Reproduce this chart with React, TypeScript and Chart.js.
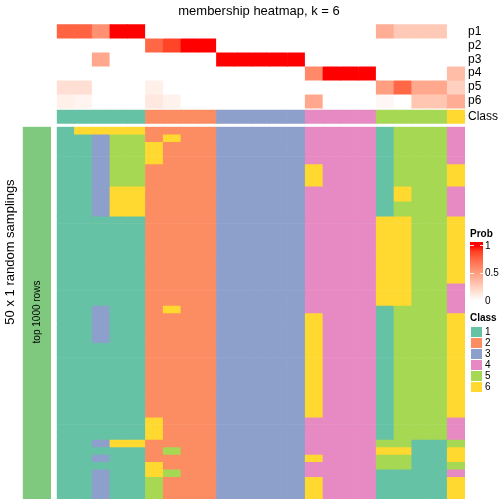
import React, { useEffect, useRef } from "react";
import { Chart, registerables } from "chart.js";

Chart.register(...registerables);

const FONT = '"Liberation Sans", Arial, Helvetica, sans-serif';

// ---- data ----
const columnIds = Array.from({ length: 23 }, (_, i) => `s${i + 1}`);
const annotationLabels = ["p1", "p2", "p3", "p4", "p5", "p6", "Class"];

const p1 = [0.77, 0.77, 0.57, 1, 1, 0, 0, 0, 0, 0, 0, 0, 0, 0, 0, 0, 0, 0, 0.42, 0.28, 0.28, 0.28, 0];
const p2 = [0, 0, 0, 0, 0, 0.75, 0.88, 1, 1, 0, 0, 0, 0, 0, 0, 0, 0, 0, 0, 0, 0, 0, 0];
const p3 = [0, 0, 0.45, 0, 0, 0, 0, 0, 0, 1, 1, 1, 1, 1, 0, 0, 0, 0, 0, 0, 0, 0, 0];
const p4 = [0, 0, 0, 0, 0, 0, 0, 0, 0, 0, 0, 0, 0, 0, 0.6, 1, 1, 1, 0, 0, 0, 0, 0.35];
const p5 = [0.17, 0.17, 0, 0, 0, 0.08, 0, 0, 0, 0, 0, 0, 0, 0, 0, 0, 0, 0, 0.5, 0.75, 0.45, 0.45, 0.25];
const p6 = [0.08, 0.06, 0, 0, 0, 0.12, 0.07, 0, 0, 0, 0, 0, 0, 0, 0.45, 0, 0, 0, 0.04, 0, 0.3, 0.3, 0.42];
const probRows = [p1, p2, p3, p4, p5, p6];

const classAssignment = [1, 1, 1, 1, 1, 2, 2, 2, 2, 3, 3, 3, 3, 3, 4, 4, 4, 4, 5, 5, 5, 5, 6];

// 50 random samplings x 23 columns, class per cell
const samplingRows = [
  "16666222233333444415554",
  "11355262233333444415554",
  "11355622233333444415554",
  "11355622233333444415554",
  "11355622233333444415554",
  "11355222233333644415556",
  "11355222233333644415556",
  "11355222233333644415556",
  "11366222233333444416554",
  "11366222233333444416554",
  "11366222233333444415554",
  "11366222233333444415554",
  "11111222233333444466556",
  "11111222233333444466556",
  "11111222233333444466556",
  "11111222233333444466556",
  "11111222233333444466556",
  "11111222233333444466556",
  "11111222233333444466556",
  "11111222233333444466556",
  "11111222233333444466556",
  "11111222233333444466554",
  "11111222233333444466554",
  "11111222233333444466554",
  "11311262233333444415554",
  "11311222233333644415556",
  "11311222233333644415556",
  "11311222233333644415556",
  "11311222233333644415556",
  "11111222233333644415556",
  "11111222233333644415556",
  "11111222233333644415556",
  "11111222233333644415556",
  "11111222233333644415556",
  "11111222233333644415556",
  "11111222233333644415556",
  "11111222233333644415556",
  "11111222233333644415556",
  "11111222233333644415556",
  "11111622233333444415554",
  "11111622233333444415554",
  "11111622233333444415554",
  "11366222233333444455115",
  "11111252233333444466116",
  "11311222233333644455116",
  "11111622233333444455115",
  "11311652233333444411114",
  "11311522233333644411116",
  "11311522233333644411116",
  "11311522233333644411116",
];

const classLabels = ["1", "2", "3", "4", "5", "6"];
const classColors = ["#66C2A5", "#FC8D62", "#8DA0CB", "#E78AC3", "#A6D854", "#FFD92F"];
const probLegendTicks = [1, 0.5, 0];
const samplingBarColor = "#7FC97F";

// ---- colour helpers (white -> red interpolated in LAB) ----
function lab2rgb(L: number, a: number, b: number): string {
  const fy = (L + 16) / 116;
  const fx = fy + a / 500;
  const fz = fy - b / 200;
  const finv = (t: number) => (t * t * t > 0.008856 ? t * t * t : (t - 16 / 116) / 7.787);
  const X = 0.95047 * finv(fx);
  const Y = finv(fy);
  const Z = 1.08883 * finv(fz);
  const r = 3.2406 * X - 1.5372 * Y - 0.4986 * Z;
  const g = -0.9689 * X + 1.8758 * Y + 0.0415 * Z;
  const bl = 0.0557 * X - 0.204 * Y + 1.057 * Z;
  const gam = (c: number) => {
    c = Math.max(0, Math.min(1, c));
    return c <= 0.0031308 ? 12.92 * c : 1.055 * Math.pow(c, 1 / 2.4) - 0.055;
  };
  return `rgb(${Math.round(gam(r) * 255)},${Math.round(gam(g) * 255)},${Math.round(gam(bl) * 255)})`;
}
function probColor(v: number): string {
  return lab2rgb(100 + (53.24 - 100) * v, 80.09 * v, 67.2 * v);
}

const W = 504;
const H = 504;

function baseOptions(padding: any, yMax: number, yScaleExtra: any = {}) {
  return {
    responsive: false,
    maintainAspectRatio: false,
    animation: false,
    events: [],
    devicePixelRatio: 1,
    layout: { padding },
    plugins: { legend: { display: false }, tooltip: { enabled: false }, title: { display: false } },
    scales: {
      x: { type: "category", stacked: true, display: false, offset: true, grid: { display: false } },
      y: {
        type: "linear",
        min: 0,
        max: yMax,
        reverse: true,
        stacked: false,
        display: false,
        ...yScaleExtra,
      },
    },
  } as any;
}

const cellDataset = (data: any[], colors: string[]) => ({
  data,
  backgroundColor: colors,
  borderWidth: 0,
  barPercentage: 1,
  categoryPercentage: 1,
  grouped: false,
});

export default function App() {
  const topRef = useRef<HTMLCanvasElement>(null);
  const mainRef = useRef<HTMLCanvasElement>(null);
  const sideRef = useRef<HTMLCanvasElement>(null);

  useEffect(() => {
    const charts: Chart[] = [];

    // top annotation: p1..p6 + Class
    const annTickValues = [0.5, 1.5, 2.5, 3.5, 4.5, 5.5, 6.63];
    const topDatasets = probRows.map((row, r) =>
      cellDataset(row.map(() => [r, r + 1]), row.map(probColor))
    );
    topDatasets.push(
      cellDataset(classAssignment.map(() => [6.14, 7.12]), classAssignment.map((c) => classColors[c - 1]))
    );
    charts.push(
      new Chart(topRef.current!, {
        type: "bar",
        data: { labels: columnIds, datasets: topDatasets },
        options: baseOptions({ left: 56.7, top: 24.3, right: 0, bottom: H - 123.7 }, 7.12, {
          display: true,
          position: "right",
          grid: { display: false, drawTicks: false },
          border: { display: false },
          afterBuildTicks: (s: any) => {
            s.ticks = annTickValues.map((v) => ({ value: v }));
          },
          afterFit: (s: any) => {
            s.width = 39;
          },
          ticks: {
            autoSkip: false,
            padding: 3,
            color: "#000",
            font: { family: FONT, size: 12 },
            callback: (_v: any, i: number) => annotationLabels[i],
          },
        }),
      } as any)
    );

    // main membership heatmap
    const mainDatasets = samplingRows.map((row, r) =>
      cellDataset(
        row.split("").map(() => [r, r + 1]),
        row.split("").map((c) => classColors[Number(c) - 1])
      )
    );
    charts.push(
      new Chart(mainRef.current!, {
        type: "bar",
        data: { labels: columnIds, datasets: mainDatasets },
        options: baseOptions({ left: 56.7, top: 126.7, right: W - 465, bottom: H - 499 }, samplingRows.length),
      } as any)
    );

    // left sampling bar
    charts.push(
      new Chart(sideRef.current!, {
        type: "bar",
        data: {
          labels: ["top 1000 rows"],
          datasets: [cellDataset([[0, samplingRows.length]], [samplingBarColor])],
        },
        options: baseOptions({ left: 22.7, top: 126.7, right: W - 51, bottom: H - 499 }, samplingRows.length),
      } as any)
    );

    return () => charts.forEach((c) => c.destroy());
  }, []);

  const canvasStyle: React.CSSProperties = { position: "absolute", left: 0, top: 0, width: W, height: H };
  const txt: React.CSSProperties = { position: "absolute", fontFamily: FONT, color: "#000", whiteSpace: "nowrap" };

  // legend gradient: bar from y=242 to y=301, value 1 at 245.7, value 0 at 300.7
  const gTop = 242;
  const gH = 59;
  const y1 = 245.7;
  const y0 = 300.7;
  const pctAt = (v: number) => ((y0 - (y0 - y1) * v - gTop) / gH) * 100;
  const gradientStops = Array.from({ length: 11 }, (_, i) => {
    const v = 1 - i / 10;
    return `${probColor(v)} ${pctAt(v).toFixed(2)}%`;
  }).join(", ");

  return (
    <div style={{ position: "absolute", left: 0, top: 0, width: W, height: H, background: "#fff", overflow: "hidden" }}>
      <canvas ref={sideRef} width={W} height={H} style={canvasStyle} />
      <canvas ref={mainRef} width={W} height={H} style={canvasStyle} />
      <canvas ref={topRef} width={W} height={H} style={canvasStyle} />

      <div style={{ ...txt, left: 59, width: 400, top: 3, fontSize: 13, lineHeight: "16px", textAlign: "center" }}>
        membership heatmap, k = 6
      </div>

      <div
        style={{
          ...txt,
          left: 10,
          top: 252,
          fontSize: 13,
          lineHeight: "16px",
          transform: "translate(-50%, -50%) rotate(-90deg)",
        }}
      >
        50 x 1 random samplings
      </div>
      <div
        style={{
          ...txt,
          left: 37,
          top: 312,
          fontSize: 10,
          lineHeight: "12px",
          transform: "translate(-50%, -50%) rotate(-90deg)",
        }}
      >
        top 1000 rows
      </div>

      {/* Prob legend */}
      <div style={{ ...txt, left: 470, top: 228, fontSize: 10, lineHeight: "12px", fontWeight: "bold" }}>Prob</div>
      <div
        style={{
          position: "absolute",
          left: 470,
          top: gTop,
          width: 13,
          height: gH,
          background: `linear-gradient(to bottom, ${gradientStops})`,
        }}
      />
      {probLegendTicks.slice(0, 2).map((t) => {
        const y = y0 - (y0 - y1) * t;
        return (
          <React.Fragment key={`tk${t}`}>
            <div style={{ position: "absolute", left: 470, top: y - 0.5, width: 3.5, height: 1, background: "rgba(255,255,255,0.85)" }} />
            <div style={{ position: "absolute", left: 479.5, top: y - 0.5, width: 3.5, height: 1, background: "rgba(255,255,255,0.85)" }} />
          </React.Fragment>
        );
      })}
      {probLegendTicks.map((t) => (
        <div key={t} style={{ ...txt, left: 485, top: y0 - (y0 - y1) * t - 6, fontSize: 10, lineHeight: "12px" }}>
          {String(t)}
        </div>
      ))}

      {/* Class legend */}
      <div style={{ ...txt, left: 470, top: 312, fontSize: 10, lineHeight: "12px", fontWeight: "bold" }}>Class</div>
      {classLabels.map((lab, i) => (
        <React.Fragment key={lab}>
          <div
            style={{
              position: "absolute",
              left: 471,
              top: 327 + i * 11,
              width: 11,
              height: 10,
              background: classColors[i],
            }}
          />
          <div style={{ ...txt, left: 485, top: 326 + i * 11, fontSize: 10, lineHeight: "12px" }}>{lab}</div>
        </React.Fragment>
      ))}
    </div>
  );
}
